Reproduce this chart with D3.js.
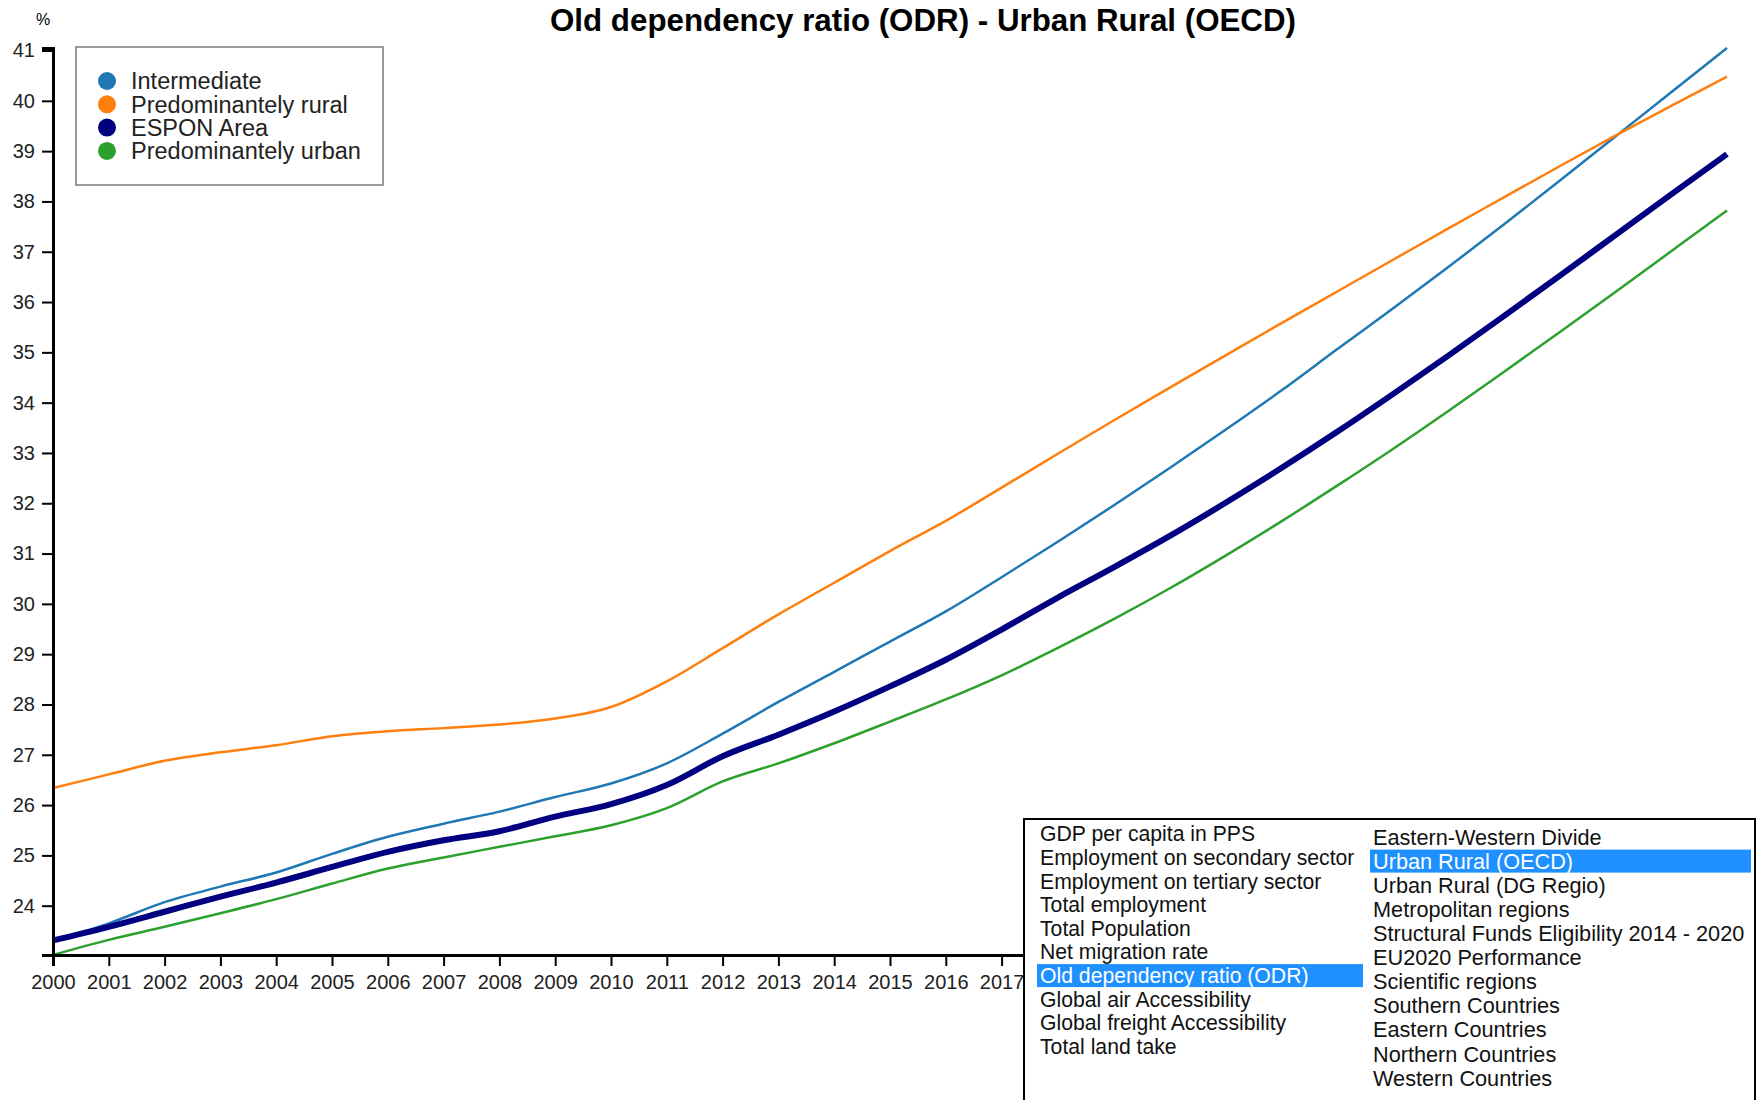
<!DOCTYPE html>
<html>
<head>
<meta charset="utf-8">
<script src="https://cdnjs.cloudflare.com/ajax/libs/d3/7.8.5/d3.min.js"></script>
<style>
    body { margin: 0; background: white; }
    text { font-family: "Liberation Sans", Arial, sans-serif; }
</style>
</head>
<body>
<div id="data-vis"></div>
<script>
//DATA
//Years on the x axis
const years = [2000, 2001, 2002, 2003, 2004, 2005, 2006, 2007, 2008, 2009, 2010,
               2011, 2012, 2013, 2014, 2015, 2016, 2017, 2018, 2019, 2020,
               2021, 2022, 2023, 2024, 2025, 2026, 2027, 2028, 2029, 2030];

//Series names (legend order)
const seriesNames = ["Intermediate", "Predominantely rural", "ESPON Area", "Predominantely urban"];

//Old dependency ratio values per series
const intermediateValues = [23.31, 23.65, 24.07, 24.38, 24.66, 25.03, 25.37, 25.63, 25.87, 26.16, 26.43,
                            26.83, 27.42, 28.05, 28.65, 29.25, 29.85, 30.53, 31.23, 31.95, 32.69,
                            33.45, 34.23, 35.05, 35.86, 36.69, 37.54, 38.41, 39.29, 40.17, 41.05];
const ruralValues = [26.34, 26.61, 26.88, 27.05, 27.19, 27.37, 27.47, 27.53, 27.60, 27.72, 27.95,
                     28.46, 29.12, 29.79, 30.42, 31.05, 31.65, 32.31, 32.98, 33.64, 34.29,
                     34.93, 35.57, 36.20, 36.83, 37.46, 38.08, 38.70, 39.31, 39.90, 40.48];
const esponValues = [23.31, 23.58, 23.88, 24.18, 24.46, 24.77, 25.07, 25.30, 25.48, 25.77, 26.02,
                     26.40, 26.97, 27.40, 27.86, 28.36, 28.89, 29.49, 30.12, 30.72, 31.34,
                     32.00, 32.69, 33.41, 34.16, 34.93, 35.72, 36.52, 37.33, 38.14, 38.94];
const urbanValues = [23.02, 23.32, 23.58, 23.85, 24.13, 24.44, 24.74, 24.96, 25.17, 25.38, 25.60,
                     25.94, 26.47, 26.83, 27.23, 27.66, 28.10, 28.58, 29.12, 29.69, 30.30,
                     30.95, 31.63, 32.34, 33.07, 33.83, 34.61, 35.40, 36.20, 37.01, 37.82];

//Y axis tick labels
const yTickValues = [24, 25, 26, 27, 28, 29, 30, 31, 32, 33, 34, 35, 36, 37, 38, 39, 40, 41];

//Indicator list (two columns) and selected entries
const listColumn1 = ["GDP per capita in PPS", "Employment on secondary sector", "Employment on tertiary sector",
                     "Total employment", "Total Population", "Net migration rate", "Old dependency ratio (ODR)",
                     "Global air Accessibility", "Global freight Accessibility", "Total land take"];
const listColumn2 = ["Eastern-Western Divide", "Urban Rural (OECD)", "Urban Rural (DG Regio)", "Metropolitan regions",
                     "Structural Funds Eligibility 2014 - 2020", "EU2020 Performance", "Scientific regions",
                     "Southern Countries", "Eastern Countries", "Northern Countries", "Western Countries"];
const selectedIndicator = "Old dependency ratio (ODR)";
const selectedTypology = "Urban Rural (OECD)";

//SCRIPT PROPERTIES
const w = 1761;
const h = 1100;
const colours = ["#1f77b4", "#ff7f0e", "#000080", "#2ca02c"];
const widths = [2.5, 2.5, 6, 2.5];

//Left edge of the indicator list box (it hides the rest of the x axis)
const listLeft = 1024;

function chart() {
    //Build series table
    let valueLists = [intermediateValues, ruralValues, esponValues, urbanValues];
    let series = seriesNames.map((name, i) => ({
        name: name,
        colour: colours[i],
        width: widths[i],
        values: years.map((y, j) => ({year: y, value: valueLists[i][j]}))
    }));

    let svg = d3.select("#data-vis")
                .append("svg")
                .attr("width", w)
                .attr("height", h)
                .style("background-color", "white");

    //Scales
    let x = d3.scaleLinear()
              .domain(d3.extent(years))
              .range([53, 1727]);

    let allValues = valueLists.flat();
    let y = d3.scaleLinear()
              .domain(d3.extent(allValues))
              .range([955, 48]);

    //Title
    svg.append("text")
        .attr("x", 923)
        .attr("y", 31)
        .attr("text-anchor", "middle")
        .style("font-size", "31.3px")
        .style("font-weight", "bold")
        .text("Old dependency ratio (ODR) - Urban Rural (OECD)");

    //Unit label
    svg.append("text")
        .attr("x", 43)
        .attr("y", 25)
        .attr("text-anchor", "middle")
        .style("font-size", "16px")
        .text("%");

    //Lines
    let line = d3.line()
                 .x(d => x(d.year))
                 .y(d => y(d.value))
                 .curve(d3.curveMonotoneX);

    svg.append("g")
        .selectAll("path")
        .data(series)
        .enter()
        .append("path")
        .attr("d", d => line(d.values))
        .attr("fill", "none")
        .attr("stroke", d => d.colour)
        .attr("stroke-width", d => d.width);

    //X axis
    let xAxis = svg.append("g")
        .attr("transform", "translate(0,955)")
        .call(d3.axisBottom(x)
                .tickValues(years)
                .tickFormat(d3.format("d"))
                .tickSize(11)
                .tickPadding(9));

    //Labels fully under the list box are not visible
    xAxis.selectAll(".tick")
        .filter(d => x(d) - 25 > listLeft)
        .select("text")
        .remove();

    //Y axis
    let yAxis = svg.append("g")
        .attr("transform", "translate(53,0)")
        .call(d3.axisLeft(y)
                .tickValues(yTickValues)
                .tickSize(11)
                .tickPadding(7));

    [xAxis, yAxis].forEach(a => {
        a.select(".domain").attr("stroke-width", 3);
        a.selectAll(".tick line").attr("stroke-width", 2);
        a.selectAll(".tick text")
            .style("font-size", "20px")
            .style("font-family", "'Liberation Sans', Arial, sans-serif")
            .attr("fill", "#222");
    });

    //Legend
    let legend = svg.append("g");
    legend.append("rect")
        .attr("x", 76)
        .attr("y", 47)
        .attr("width", 307)
        .attr("height", 138)
        .attr("fill", "white")
        .attr("stroke", "#999")
        .attr("stroke-width", 2);

    let items = legend.selectAll(".legend-item")
        .data(series)
        .enter()
        .append("g")
        .attr("class", "legend-item")
        .attr("transform", (d, i) => "translate(107," + (81 + i * 23.3) + ")");

    items.append("circle")
        .attr("r", 9)
        .attr("fill", d => d.colour);

    items.append("text")
        .attr("x", 24)
        .attr("dy", "0.35em")
        .style("font-size", "23.5px")
        .attr("fill", "#222")
        .text(d => d.name);

    //Indicator list box
    let list = svg.append("g");
    list.append("rect")
        .attr("x", listLeft)
        .attr("y", 819)
        .attr("width", 731)
        .attr("height", 300)
        .attr("fill", "white")
        .attr("stroke", "black")
        .attr("stroke-width", 2);

    let columns = [
        {entries: listColumn1, x: 1040, top: 834, step: 23.6, hx: 1037, hw: 326, size: 21.2, selected: selectedIndicator},
        {entries: listColumn2, x: 1373, top: 837, step: 24.1, hx: 1370, hw: 381, size: 21.7, selected: selectedTypology}
    ];

    columns.forEach(col => {
        let rows = list.append("g")
            .selectAll("g")
            .data(col.entries)
            .enter()
            .append("g")
            .attr("transform", (d, i) => "translate(0," + (col.top + i * col.step) + ")");

        //Highlight selected entry
        rows.filter(d => d == col.selected)
            .append("rect")
            .attr("x", col.hx)
            .attr("y", -11.5)
            .attr("width", col.hw)
            .attr("height", 23)
            .attr("fill", "#1e90ff");

        rows.append("text")
            .attr("x", col.x)
            .attr("dy", "0.35em")
            .style("font-size", col.size + "px")
            .attr("fill", d => d == col.selected ? "white" : "#111")
            .text(d => d);
    });
}

window.onload = chart;
</script>
</body>
</html>
